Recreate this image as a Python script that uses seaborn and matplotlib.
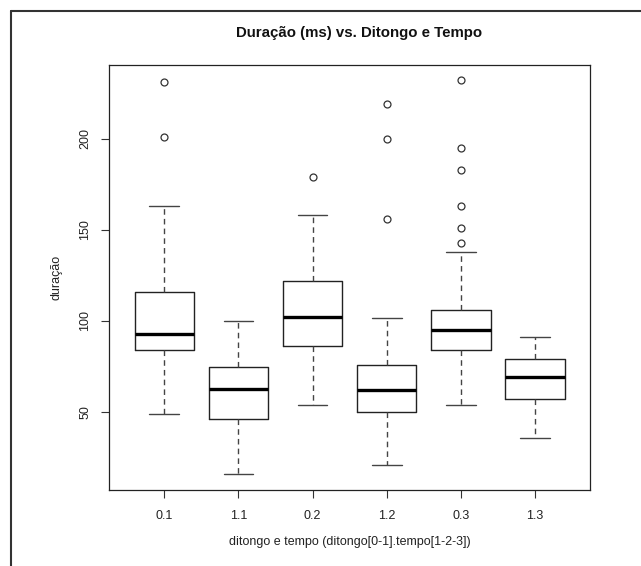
import matplotlib
matplotlib.use("Agg")
import matplotlib.pyplot as plt
import seaborn as sns
from matplotlib.lines import Line2D

# grupos (ditongo.tempo) e estatisticas
groups = ["0.1", "1.1", "0.2", "1.2", "0.3", "1.3"]
whis_lo = [48.8, 15.9, 53.7, 20.7, 53.7, 35.8]
q1 = [83.9, 46.2, 86.0, 49.9, 83.9, 57.2]
medians = [92.8, 62.7, 102.0, 61.8, 95.0, 69.0]
q3 = [115.8, 74.8, 122.0, 75.8, 105.9, 78.9]
whis_hi = [163.2, 100.0, 158.0, 101.8, 138.0, 91.0]
outliers = [
    [231.2, 200.9],
    [],
    [178.9],
    [219.1, 200.0, 156.0],
    [232.2, 195.1, 183.1, 162.9, 151.0, 143.0],
    [],
]

sns.set_style("ticks")
plt.rcParams["font.family"] = ["Liberation Sans", "DejaVu Sans"]
plt.rcParams["axes.edgecolor"] = "#222222"

stats = []
for g, lo, a, m, b, hi, fl in zip(groups, whis_lo, q1, medians, q3, whis_hi, outliers):
    stats.append({"label": g, "whislo": lo, "q1": a, "med": m, "q3": b,
                  "whishi": hi, "fliers": fl})

fig = plt.figure(figsize=(6.41, 5.66), dpi=100)
ax = fig.add_axes([109.3 / 641, 1 - 489.5 / 566, (590 - 109.3) / 641, (489.5 - 65) / 566])

ax.bxp(
    stats,
    widths=0.8,
    capwidths=0.4,
    boxprops=dict(color="#222222", linewidth=1.0),
    whiskerprops=dict(color="#444444", linewidth=1.0, linestyle=(0, (4, 3))),
    capprops=dict(color="#444444", linewidth=1.0),
    medianprops=dict(color="black", linewidth=2.4, solid_capstyle="butt"),
    flierprops=dict(marker="o", markerfacecolor="none", markeredgecolor="#333333",
                    markersize=5, markeredgewidth=0.9),
)

ax.set_xlim(0.26, 6.74)
ax.set_ylim(7.4, 240.6)
ax.set_yticks([50, 100, 150, 200])
ax.set_xticks(range(1, len(groups) + 1))
ax.set_xticklabels(groups)
ax.tick_params(axis="both", length=6, width=0.8, color="#333333", labelsize=9,
               labelcolor="#222222")
ax.tick_params(axis="x", pad=9)
ax.tick_params(axis="y", pad=7)
plt.setp(ax.get_yticklabels(), rotation=90, va="center")
for s in ax.spines.values():
    s.set_visible(True)
    s.set_linewidth(0.9)

ax.set_xlabel("ditongo e tempo (ditongo[0-1].tempo[1-2-3])", fontsize=9,
              color="#222222", labelpad=10)
ax.set_ylabel("duração", fontsize=9, color="#222222", labelpad=12)
fig.text(359 / 641, 1 - 33 / 566, "Duração (ms) vs. Ditongo e Tempo",
         ha="center", va="center", fontsize=10.8, fontweight="bold", color="#111111")

# moldura da captura de tela
fig.add_artist(Line2D([10.5 / 641, 1.0], [1 - 11 / 566, 1 - 11 / 566],
                      transform=fig.transFigure, color="#333333", linewidth=1.5))
fig.add_artist(Line2D([10.5 / 641, 10.5 / 641], [0.0, 1 - 11 / 566],
                      transform=fig.transFigure, color="#333333", linewidth=1.5))

fig.savefig("out.png", dpi=100, facecolor="white")
